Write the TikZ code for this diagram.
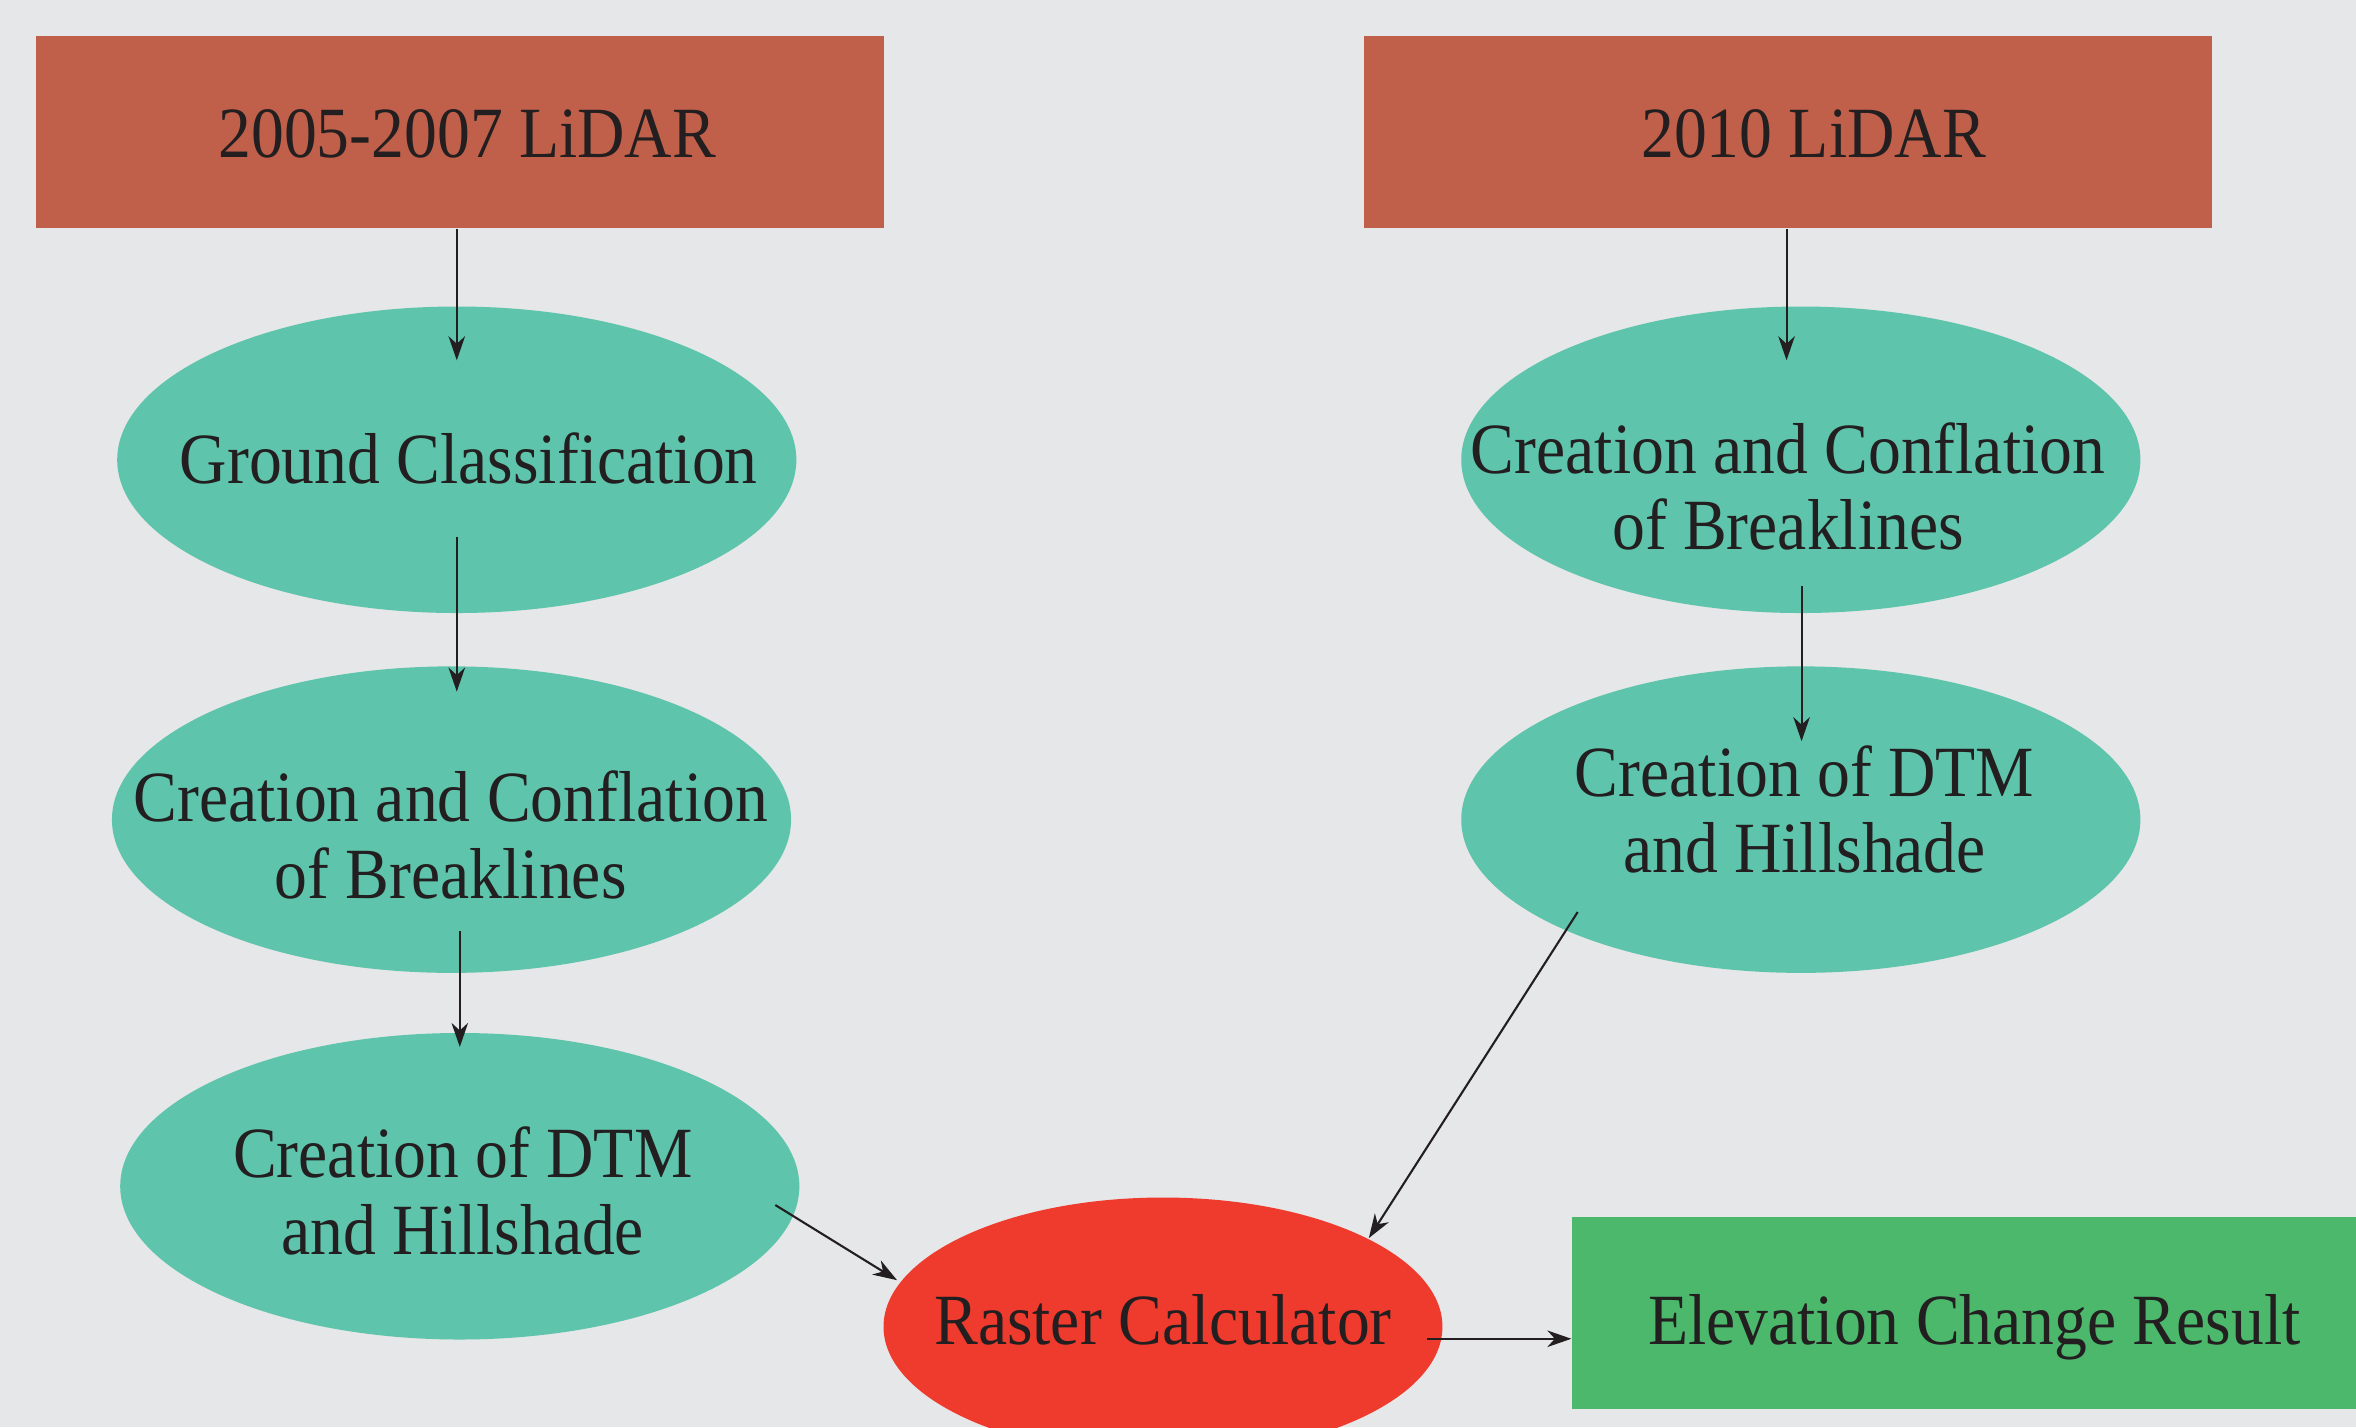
\documentclass[tikz,border=0pt]{standalone}
\usepackage{fontspec}
\setmainfont[FakeStretch=0.91]{Liberation Serif}
\usetikzlibrary{shapes.geometric,arrows.meta,calc}
\definecolor{bgc}{HTML}{E6E7E8}
\definecolor{boxc}{HTML}{C1604A}
\definecolor{tealc}{HTML}{5EC4AC}
\definecolor{redc}{HTML}{EE3B2D}
\definecolor{greenc}{HTML}{4BB86C}
\definecolor{txtc}{HTML}{231F20}
\begin{document}
\begin{tikzpicture}[x=1pt,y=1pt,
  lidar/.style={rectangle,fill=boxc,minimum width=564pt,minimum height=128pt,inner sep=0pt},
  proc/.style={ellipse,fill=tealc,minimum width=452pt,minimum height=204pt,inner sep=0pt},
  lab/.style={font=\fontsize{48}{51}\selectfont,text=txtc,anchor=base,align=center,inner sep=0pt},
  arr/.style={draw=txtc,line width=1.4pt,-{Stealth[length=16pt,width=11pt,inset=5pt]}}]
\fill[bgc] (0,0) rectangle (1568,950);
\useasboundingbox (0,0) rectangle (1568,950);
% shapes
\node[lidar] (box1) at (306,862) {};
\node[lidar] (box2) at (1190,862) {};
\node[proc] (gc) at (304,644) {};
\node[proc] (ccbL) at (300.5,404.5) {};
\node[proc] (dtmL) at (306,160.5) {};
\node[proc] (ccbR) at (1198.5,644) {};
\node[proc] (dtmR) at (1198.5,404.5) {};
\node[ellipse,fill=redc,minimum width=372pt,minimum height=172pt,inner sep=0pt] (rc) at (774,67) {};
\node[rectangle,fill=greenc,minimum width=522pt,minimum height=128pt,inner sep=0pt] (res) at (1307,76) {};
% labels (base = baseline of the last line)
\node[lab] (t1) at (311,845) {2005-2007 LiDAR};
\node[lab] (t2) at (1207,845) {2010 LiDAR};
\node[lab] (t3) at (312,628) {Ground Classification};
\node[lab] (t4) at (300,352) {Creation and Conflation\\of Breaklines};
\node[lab] (t5) at (308,115) {Creation of DTM\\and Hillshade};
\node[lab] (t6) at (1190,584) {Creation and Conflation\\of Breaklines};
\node[lab] (t7) at (1201,369) {Creation of DTM\\and Hillshade};
\node[lab] (t8) at (774,55) {Raster Calculator};
\node[lab] (t9) at (1314,55) {Elevation Change Result};
% connector points
\coordinate (e1) at ($(gc.north)+(0,-36)$);
\coordinate (s2) at ($(gc.south)+(0,51)$);
\coordinate (e2) at ($(ccbL.north)+(3.5,-17)$);
\coordinate (s3) at ($(ccbL.south)+(5.5,28)$);
\coordinate (e3) at ($(dtmL.north)+(0,-9.5)$);
\coordinate (s4) at ($(dtmL.center)+(210,-12.5)$);
\coordinate (e4) at ($(rc.center)+(-177,31)$);
\coordinate (e5) at ($(ccbR.north)+(-9.5,-36)$);
\coordinate (s6) at ($(ccbR.south)+(0.5,18)$);
\coordinate (e6) at ($(dtmR.north)+(0.5,-50)$);
\coordinate (s7) at ($(dtmR.center)+(-148.5,-61.5)$);
\coordinate (e7) at ($(rc.center)+(137,59)$);
\coordinate (s8) at ($(rc.center)+(176,-8)$);
% connectors
\draw[arr] (box1.south -| e1) -- (e1);
\draw[arr] (s2) -- (e2 -| s2);
\draw[arr] (s3) -- (e3 -| s3);
\draw[arr] (s4) -- (e4);
\draw[arr] (box2.south -| e5) -- (e5);
\draw[arr] (s6) -- (e6 -| s6);
\draw[arr] (s7) -- (e7);
\draw[arr] (s8) -- (s8 -| res.west);
\end{tikzpicture}
\end{document}
